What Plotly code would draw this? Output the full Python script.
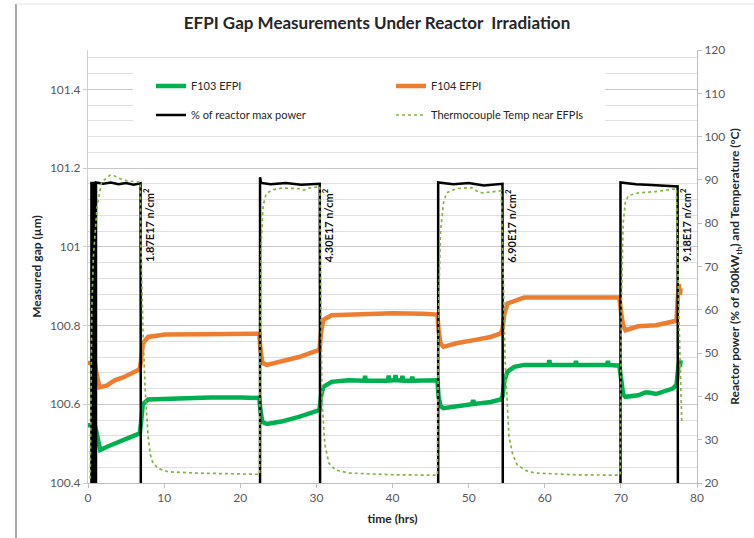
import plotly.graph_objects as go

# ---------------- data ----------------
f103_t = [0.0, 0.9, 1.1, 1.6, 2.5, 3.5, 4.6, 5.7, 6.8, 6.95, 7.2, 7.9, 10.0, 12.3, 16.0, 20.2, 22.5,
          22.65, 22.9, 23.5, 25.4, 27.7, 29.9, 30.4, 30.6, 30.9, 32.0, 34.2, 36.3, 36.4, 36.5, 39.4, 39.5, 39.6,
          40.3, 40.4, 40.5, 41.2, 41.3, 41.4, 42.5, 42.6, 42.7, 45.9,
          46.05, 46.3, 46.7, 48.4, 50.4, 50.6, 50.8, 52.9, 54.2, 54.45, 54.7, 55.1, 56.0, 57.3, 59.6, 60.5, 60.6,
          60.7, 64.0, 64.1, 64.2, 68.2, 68.3, 68.4, 69.8,
          70.05, 70.3, 70.6, 72.3, 73.2, 73.7, 74.6, 76.8, 77.3, 77.45, 77.6, 77.75, 77.85]
f103_v = [100.547, 100.547, 100.53, 100.484, 100.492, 100.500, 100.510, 100.518, 100.526, 100.55, 100.600, 100.612,
          100.614, 100.615, 100.617, 100.617, 100.616,
          100.585, 100.555, 100.550, 100.556, 100.568, 100.581, 100.585, 100.620, 100.644, 100.657, 100.661,
          100.660, 100.672, 100.660, 100.660, 100.673, 100.660, 100.661, 100.674, 100.661, 100.660, 100.672,
          100.660, 100.660, 100.670, 100.660, 100.661,
          100.620, 100.595, 100.590, 100.594, 100.600, 100.610, 100.601, 100.606, 100.612, 100.620, 100.660,
          100.683, 100.695, 100.700, 100.700, 100.700, 100.712, 100.700, 100.700, 100.710, 100.700, 100.700,
          100.710, 100.700, 100.698,
          100.660, 100.625, 100.619, 100.623, 100.630, 100.630, 100.626, 100.640, 100.649, 100.670, 100.705,
          100.695, 100.712]

f104_t = [0.0, 0.9, 1.1, 1.5, 2.5, 3.5, 4.6, 5.7, 6.8, 6.95, 7.2, 7.9, 10.1, 15.0, 20.2, 22.5,
          22.65, 22.9, 23.5, 25.4, 27.7, 29.9, 30.4, 30.6, 30.9, 32.0, 36.0, 40.0, 44.0, 45.9,
          46.05, 46.3, 46.7, 48.4, 50.7, 52.9, 54.2, 54.45, 54.7, 55.1, 57.3, 62.0, 66.0, 69.8,
          70.05, 70.3, 70.6, 72.3, 74.6, 76.8, 77.3, 77.45, 77.6, 77.75, 77.85]
f104_v = [100.705, 100.705, 100.680, 100.643, 100.648, 100.661, 100.668, 100.678, 100.689, 100.710, 100.755,
          100.771, 100.777, 100.778, 100.780, 100.779,
          100.740, 100.705, 100.700, 100.708, 100.720, 100.735, 100.738, 100.780, 100.814, 100.826, 100.829,
          100.831, 100.830, 100.828,
          100.790, 100.755, 100.746, 100.755, 100.763, 100.771, 100.780, 100.790, 100.830, 100.856, 100.871,
          100.870, 100.872, 100.871,
          100.830, 100.800, 100.788, 100.798, 100.801, 100.809, 100.812, 100.860, 100.905, 100.878, 100.895]

power_t = [0.0, 0.45, 0.45, 0.6, 0.6, 0.75, 0.75, 0.9, 0.9, 1.05, 1.05, 2.0, 3.0, 4.0, 5.0, 6.0, 6.9, 6.95,
           22.6, 22.6, 22.75, 24.0, 26.0, 28.0, 30.45, 30.5,
           46.0, 46.0, 48.0, 50.0, 52.0, 54.45, 54.5,
           69.95, 69.95, 72.0, 74.0, 76.0, 77.45, 77.5, 78.0]
power_v = [0, 0, 89.3, 89.3, 0, 0, 89.3, 89.3, 0, 0, 89.4, 89.1, 89.4, 89.0, 89.3, 88.9, 89.2, 0,
           0, 90.6, 89.3, 89.0, 89.3, 88.9, 89.1, 0,
           0, 89.4, 89.0, 89.3, 88.7, 89.1, 0,
           0, 89.4, 89.0, 88.8, 88.6, 88.5, 0, 0]

temp_t = [0.3, 0.5, 0.7, 1.2, 1.8, 2.4, 2.9, 3.4, 3.8, 4.6, 5.5, 6.4, 6.85, 6.95, 7.1, 7.25, 7.5, 7.9, 8.2,
          8.55, 9.3, 10.5, 14.0, 20.2, 22.55,
          22.6, 22.75, 23.0, 23.4, 24.2, 25.4, 27.7, 28.3, 29.0, 30.45, 30.53, 30.76, 31.1, 31.64, 32.5, 34.3,
          40.0, 45.9,
          46.05, 46.3, 46.7, 47.1, 48.4, 50.4, 51.2, 51.8, 52.9, 54.3, 54.53, 54.8, 55.3, 55.8, 56.4, 57.5, 58.7,
          64.0, 69.9,
          70.05, 70.3, 70.6, 71.0, 72.3, 74.6, 76.8, 77.3, 77.6, 78.0]
temp_v = [21.0, 60.0, 72.0, 84.0, 89.6, 90.3, 91.1, 91.0, 90.6, 90.0, 89.7, 89.6, 89.5, 75.0, 62.0, 53.8, 42.0,
          30.7, 26.5, 24.5, 23.3, 22.6, 22.3, 22.1, 22.0,
          50.0, 75.0, 84.0, 86.8, 87.7, 88.1, 88.0, 87.6, 88.1, 88.5, 69.2, 38.5, 29.0, 24.6, 23.0, 22.3,
          21.9, 21.8,
          60.0, 78.0, 84.7, 87.0, 88.0, 88.2, 87.3, 87.0, 87.2, 87.5, 69.2, 48.0, 30.7, 26.5, 24.2, 22.9, 22.3,
          21.9, 21.8,
          60.0, 80.0, 85.0, 86.4, 87.0, 87.3, 87.8, 88.0, 60.0, 34.0]

flux_times = [6.95, 30.5, 54.5, 77.5]
flux_labels = ["1.87E17 n/cm<sup>2</sup>", "4.30E17 n/cm<sup>2</sup>",
               "6.90E17 n/cm<sup>2</sup>", "9.18E17 n/cm<sup>2</sup>"]

x_ticks = [0, 10, 20, 30, 40, 50, 60, 70, 80]

# ---------------- figure ----------------
FONT = "Lato"
W, H = 754, 538
ML, MR, MT, MB = 88, 57, 50, 55
PW, PH = W - ML - MR, H - MT - MB


def px_x(p):
    return (p - ML) / PW


def px_y(p):
    return (H - MB - p) / PH


fig = go.Figure()
fig.add_trace(go.Scatter(x=f103_t, y=f103_v, mode="lines", name="F103 EFPI",
                         line=dict(color="#00B050", width=4.5), legend="legend"))
fig.add_trace(go.Scatter(x=f104_t, y=f104_v, mode="lines", name="F104 EFPI",
                         line=dict(color="#ED7D31", width=4.5), legend="legend"))
fig.add_trace(go.Scatter(x=power_t, y=power_v, mode="lines", name="% of reactor max power",
                         line=dict(color="#000000", width=2.5), yaxis="y2", legend="legend2"))
fig.add_trace(go.Scatter(x=temp_t, y=temp_v, mode="lines", name="Thermocouple Temp near EFPIs",
                         line=dict(color="#86B443", width=1.7, dash="dot"), yaxis="y2",
                         legend="legend2"))

for t, lab in zip(flux_times, flux_labels):
    fig.add_annotation(x=t + 1.0, y=79.5, xref="x", yref="y2", text=lab, textangle=-90,
                       showarrow=False, font=dict(family=FONT, size=11, color="#111111", weight="bold"))

axis_font = dict(family=FONT, size=12, color="#595959")
title_font = dict(family=FONT, size=12, color="#262626", weight="bold")

fig.update_layout(
    width=W, height=H,
    margin=dict(l=ML, r=MR, t=MT, b=MB, pad=0),
    paper_bgcolor="white", plot_bgcolor="white",
    title=dict(text="EFPI Gap Measurements Under Reactor  Irradiation", x=0.5, xanchor="center",
               y=1 - 23 / H, yanchor="middle",
               font=dict(family=FONT, size=17, color="#262626", weight="bold")),
    xaxis=dict(range=[0, 80], tickvals=x_ticks, showgrid=False, zeroline=False, showline=True,
               linecolor="#BFBFBF", linewidth=1, ticks="outside", ticklen=4, tickcolor="#BFBFBF",
               tickfont=axis_font,
               title=dict(text="time (hrs)", font=title_font, standoff=10)),
    yaxis=dict(range=[100.4, 101.5], tick0=100.4, dtick=0.2, tickmode="linear", showgrid=True,
               gridcolor="#C8C8C8", gridwidth=1, zeroline=False, showline=True, linecolor="#D0D0D0",
               ticks="outside", ticklen=4, tickcolor="#D0D0D0", tickfont=axis_font,
               minor=dict(dtick=0.04, tick0=100.4, showgrid=True, gridcolor="#E0E0E0", gridwidth=1,
                          ticks=""),
               title=dict(text="Measured gap (µm)", font=title_font, standoff=5)),
    yaxis2=dict(range=[20, 120], dtick=10, tick0=20, overlaying="y", side="right", showgrid=False,
                zeroline=False, showline=True, linecolor="#BFBFBF", ticks="outside", ticklen=4,
                tickcolor="#BFBFBF", tickfont=axis_font,
                title=dict(text="Reactor power (% of 500kW<sub>th</sub>) and Temperature (°C)",
                           font=title_font, standoff=6)),
    legend=dict(orientation="h", x=px_x(151), xanchor="left", y=px_y(86), yanchor="middle",
                bgcolor="rgba(0,0,0,0)", borderwidth=0, entrywidth=195, entrywidthmode="pixels",
                itemwidth=30, font=dict(family=FONT, size=11, color="#262626")),
    legend2=dict(orientation="h", x=px_x(151), xanchor="left", y=px_y(115), yanchor="middle",
                 bgcolor="rgba(0,0,0,0)", borderwidth=0, entrywidth=195, entrywidthmode="pixels",
                 itemwidth=30, font=dict(family=FONT, size=11, color="#262626")),
    shapes=[
        # legend background box
        dict(type="rect", xref="paper", yref="paper", x0=px_x(133), x1=px_x(605),
             y0=px_y(128), y1=px_y(63), fillcolor="white", line=dict(width=0), layer="above"),
        # chart-area border (left and top)
        dict(type="line", xref="paper", yref="paper", x0=px_x(16), x1=px_x(16),
             y0=px_y(4), y1=px_y(545), line=dict(color="#8C8C8C", width=1.5)),
        dict(type="line", xref="paper", yref="paper", x0=px_x(16), x1=px_x(760),
             y0=px_y(4), y1=px_y(4), line=dict(color="#E6E6E6", width=1)),
    ],
)

fig.write_html("out.html")
